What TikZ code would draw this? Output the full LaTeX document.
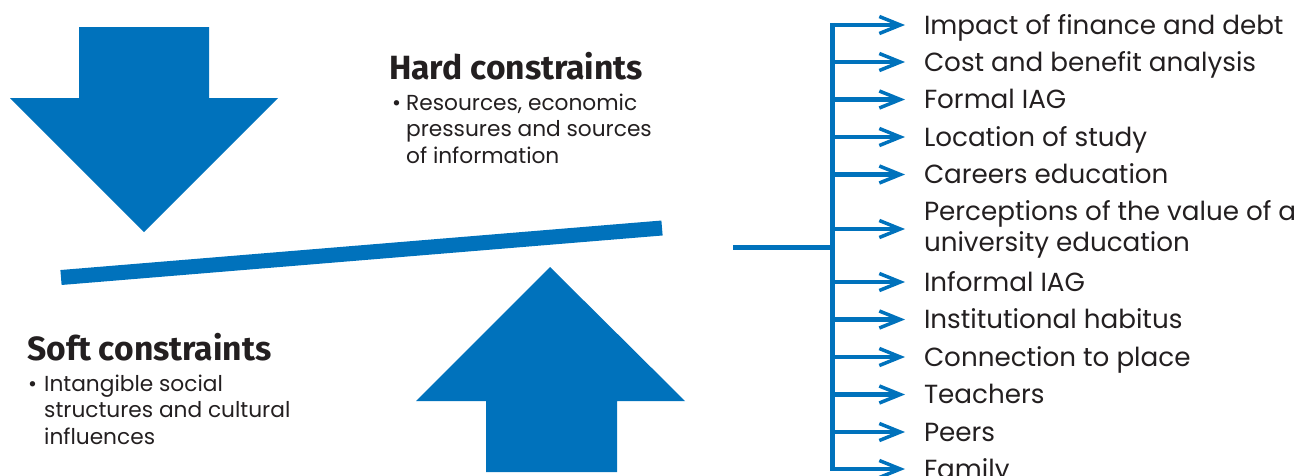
\documentclass[tikz,border=0pt]{standalone}
\usepackage{fontspec}
\setmainfont{Poppins}
\newfontfamily\headfont{Fira Sans}
\usetikzlibrary{arrows.meta}
\definecolor{ublue}{RGB}{0,114,188}
\definecolor{ink}{RGB}{35,31,32}
\tikzset{
  bigarrow/.style={fill=ublue, draw=none},
  beam/.style={draw=ublue, line width=15pt},
  trunk/.style={draw=ublue, line width=5pt},
  branch/.style={draw=ublue, line width=4.5pt, -{Straight Barb[length=21pt,width=17pt,line width=3.5pt]}},
  item/.style={inner sep=0pt, outer xsep=19pt, anchor=west, text=ink,
    font=\fontsize{26.2}{31}\selectfont, text height=18.4pt, text depth=0pt},
  itemtwo/.style={inner sep=0pt, outer xsep=19pt, anchor=west, text=ink, align=left,
    font=\fontsize{26.2}{31}\selectfont},
  heading/.style={inner sep=0pt, anchor=base west, text=ink, font=\headfont\bfseries\fontsize{33.6}{38}\selectfont},
  bullets/.style={inner sep=0pt, anchor=base west, text=ink, align=left, font=\fontsize{21.7}{26.5}\selectfont},
}
\begin{document}
\begin{tikzpicture}[x=1pt,y=-1pt]
\useasboundingbox (0,0) rectangle (1304,475);
\clip (0,0) rectangle (1304,475);
% down arrow
\path[bigarrow] (79,27) -- (209,27) -- (209,98) -- (278,98) -- (144,232) -- (10,98) -- (79,98) -- cycle;
% up arrow
\path[bigarrow] (550,267) -- (685,401) -- (617,401) -- (617,472) -- (486,472) -- (486,401) -- (416,401) -- cycle;
% beam
\coordinate (beamL) at (61,277.5);
\coordinate (beamR) at (662,228);
\draw[beam] (beamL) -- (beamR);
% headings
\node[heading] (hard) at (389,79) {Hard constraints};
\node[bullets] (hardtxt) at (392,163) {\makebox[14pt][l]{\textbullet}Resources, economic\\\hspace*{14pt}pressures and sources\\\hspace*{14pt}of information};
\node[heading] (soft) at (27,360) {Soft constraints};
\node[bullets] (softtxt) at (28,444) {\makebox[16pt][l]{\textbullet}Intangible social\\\hspace*{16pt}structures and cultural\\\hspace*{16pt}influences};
% items
\node[item] (i1) at (905,25) {Impact of finance and debt};
\node[item] (i2) at (905,62) {Cost and benefit analysis};
\node[item] (i3) at (905,99.5) {Formal IAG};
\node[item] (i4) at (905,137) {Location of study};
\node[item] (i5) at (905,174.5) {Careers education};
\node[itemtwo] (i6) at (905,229) {Perceptions of the value of a\\university education};
\node[item] (i7) at (905,282) {Informal IAG};
\node[item] (i8) at (905,319.5) {Institutional habitus};
\node[item] (i9) at (905,357) {Connection to place};
\node[item] (i10) at (905,394.5) {Teachers};
\node[item] (i11) at (905,432) {Peers};
\node[item] (i12) at (905,469) {Family};
% trunk
\coordinate (stem) at (733,247);
\coordinate (top) at (832,22.75);
\coordinate (bot) at (832,471.25);
\draw[trunk] (top) -- (bot);
\draw[trunk] (stem) -- (stem -| top);
\foreach \k in {1,...,12}{
  \draw[branch] (top |- i\k.west) -- (i\k.west);
}
\end{tikzpicture}
\end{document}
